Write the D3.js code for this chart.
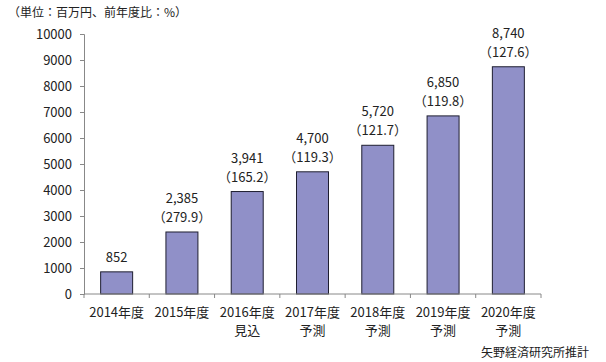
<!DOCTYPE html>
<html>
<head>
<meta charset="utf-8">
<script src="https://cdn.jsdelivr.net/npm/d3@7"></script>
<style>
  body { margin: 0; background: #fff; }
  text { font-family: "Noto Sans CJK JP", "Noto Sans", sans-serif; fill: #222; }
</style>
</head>
<body>
<div id="chart"></div>
<script>
// data
const years = ["2014年度", "2015年度", "2016年度", "2017年度", "2018年度", "2019年度", "2020年度"];
const subLabels = ["", "", "見込", "予測", "予測", "予測", "予測"];
const values = [852, 2385, 3941, 4700, 5720, 6850, 8740];
const ratios = [null, "279.9", "165.2", "119.3", "121.7", "119.8", "127.6"];
const yTicks = [0, 1000, 2000, 3000, 4000, 5000, 6000, 7000, 8000, 9000, 10000];

const width = 606, height = 362;
const margin = { top: 34, right: 65, bottom: 68, left: 84 };
const innerW = width - margin.left - margin.right;
const innerH = height - margin.top - margin.bottom;

const svg = d3.select("#chart").append("svg")
  .attr("width", width)
  .attr("height", height);

// unit note
svg.append("text")
  .attr("x", 8).attr("y", 17)
  .attr("font-size", 12)
  .text("（単位：百万円、前年度比：%）");

const g = svg.append("g")
  .attr("transform", `translate(${margin.left},${margin.top})`);

const x = d3.scaleBand()
  .domain(years)
  .range([0, innerW])
  .paddingInner(0.51)
  .paddingOuter(0.255);

const y = d3.scaleLinear()
  .domain([0, 10000])
  .range([innerH, 0]);

// y axis
const yAxis = g.append("g")
  .call(d3.axisLeft(y).tickValues(yTicks).tickSize(4).tickPadding(8).tickFormat(d3.format("d")));
yAxis.select(".domain").attr("stroke", "#888");
yAxis.selectAll(".tick line").attr("stroke", "#888");
yAxis.selectAll(".tick text").attr("font-size", 13).attr("fill", "#222")
  .style("font-family", "'Noto Sans CJK JP', sans-serif");

// bars
g.selectAll("rect.bar")
  .data(values)
  .enter()
  .append("rect")
  .attr("class", "bar")
  .attr("x", (d, i) => x(years[i]))
  .attr("y", d => y(d))
  .attr("width", x.bandwidth())
  .attr("height", d => innerH - y(d))
  .attr("fill", "#9090c8")
  .attr("stroke", "#1e1e30")
  .attr("stroke-width", 1);

// x axis with ticks at category boundaries
const xAxisG = g.append("g").attr("transform", `translate(0,${innerH})`);
xAxisG.append("line")
  .attr("x1", 0).attr("x2", innerW)
  .attr("y1", 0).attr("y2", 0)
  .attr("stroke", "#888");
const step = x.step();
d3.range(years.length + 1).forEach(i => {
  xAxisG.append("line")
    .attr("x1", i * innerW / years.length).attr("x2", i * innerW / years.length)
    .attr("y1", 0).attr("y2", 4)
    .attr("stroke", "#888");
});

// category labels
years.forEach((yr, i) => {
  const cx = x(yr) + x.bandwidth() / 2;
  xAxisG.append("text")
    .attr("x", cx).attr("y", 23)
    .attr("text-anchor", "middle")
    .attr("font-size", 13)
    .text(yr);
  if (subLabels[i]) {
    xAxisG.append("text")
      .attr("x", cx).attr("y", 41)
      .attr("text-anchor", "middle")
      .attr("font-size", 13)
      .text(subLabels[i]);
  }
});

// value labels
values.forEach((v, i) => {
  const cx = x(years[i]) + x.bandwidth() / 2;
  const top = y(v);
  if (ratios[i]) {
    g.append("text")
      .attr("x", cx).attr("y", top - 29)
      .attr("text-anchor", "middle")
      .attr("font-size", 13)
      .text(d3.format(",")(v));
    g.append("text")
      .attr("x", cx).attr("y", top - 10)
      .attr("text-anchor", "middle")
      .attr("font-size", 13)
      .text("（" + ratios[i] + "）");
  } else {
    g.append("text")
      .attr("x", cx).attr("y", top - 10)
      .attr("text-anchor", "middle")
      .attr("font-size", 13)
      .text(d3.format(",")(v));
  }
});

// source
svg.append("text")
  .attr("x", 589).attr("y", 357)
  .attr("text-anchor", "end")
  .attr("font-size", 12)
  .text("矢野経済研究所推計");
</script>
</body>
</html>
